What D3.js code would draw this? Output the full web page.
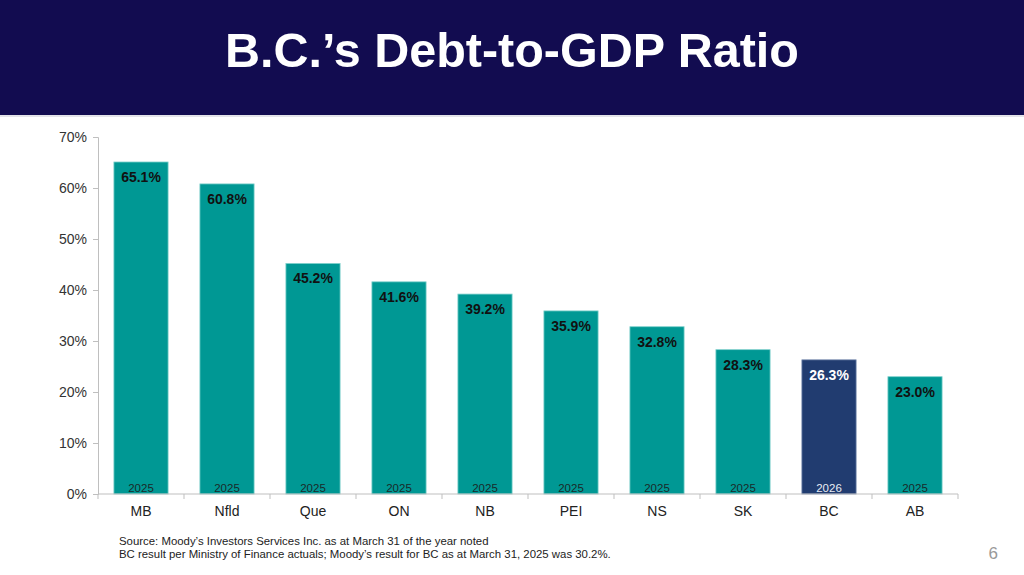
<!DOCTYPE html>
<html>
<head>
<meta charset="utf-8">
<script src="https://cdn.jsdelivr.net/npm/d3@7"></script>
<style>
  body { margin: 0; background: #fff; }
  svg { display: block; font-family: "Liberation Sans", Arial, sans-serif; }
</style>
</head>
<body>
<div id="chart"></div>
<script>
const provinces = ["MB", "Nfld", "Que", "ON", "NB", "PEI", "NS", "SK", "BC", "AB"];
const ratios = [65.1, 60.8, 45.2, 41.6, 39.2, 35.9, 32.8, 28.3, 26.3, 23.0];
const years = ["2025", "2025", "2025", "2025", "2025", "2025", "2025", "2025", "2026", "2025"];
const yTicks = [0, 10, 20, 30, 40, 50, 60, 70];

const width = 1024, height = 575;
const margin = { top: 137, right: 66, bottom: 81, left: 98 };

const svg = d3.select("#chart").append("svg")
  .attr("width", width)
  .attr("height", height);

// header band
svg.append("rect").attr("width", width).attr("height", 115).attr("fill", "#120c50");
svg.append("line")
  .attr("x1", 0).attr("x2", width).attr("y1", 116).attr("y2", 116)
  .attr("stroke", "#c8c8d4").attr("stroke-width", 1);
svg.append("text")
  .attr("x", width / 2).attr("y", 67)
  .attr("text-anchor", "middle")
  .attr("fill", "#fff")
  .style("font-size", "48.5px").style("font-weight", "bold")
  .text("B.C.\u2019s Debt-to-GDP Ratio");

const data = provinces.map((p, i) => ({ prov: p, value: ratios[i], year: years[i] }));

const x = d3.scaleBand()
  .domain(provinces)
  .range([margin.left, width - margin.right])
  .paddingInner(0.37)
  .paddingOuter(0.185);

const y = d3.scaleLinear()
  .domain([0, 70])
  .range([height - margin.bottom, margin.top]);

// y axis
const yAxis = svg.append("g")
  .attr("transform", `translate(${margin.left},0)`)
  .call(d3.axisLeft(y).tickValues(yTicks).tickSize(5).tickPadding(6).tickFormat(d => d + "%"));
yAxis.select(".domain").attr("stroke", "#bfbfbf");
yAxis.selectAll(".tick line").attr("stroke", "#bfbfbf");
yAxis.selectAll(".tick text").attr("fill", "#333").style("font-size", "14px")
  .style("font-family", "'Liberation Sans', Arial, sans-serif");

// bars
svg.selectAll(".bar")
  .data(data)
  .enter()
  .append("rect")
  .attr("class", "bar")
  .attr("x", d => x(d.prov))
  .attr("y", d => y(d.value))
  .attr("width", x.bandwidth())
  .attr("height", d => y(0) - y(d.value))
  .attr("fill", d => d.prov === "BC" ? "#213c70" : "#009894")
  .attr("stroke", d => d.prov === "BC" ? "#6b80a8" : "#7fd0cc")
  .attr("stroke-width", 0.8);

// x axis (drawn over bars)
const xAxis = svg.append("g")
  .attr("transform", `translate(0,${y(0)})`)
  .call(d3.axisBottom(x).tickSize(0).tickPadding(12));
xAxis.select(".domain").attr("stroke", "#bfbfbf").attr("d", `M${margin.left},0H${width - margin.right}`);
xAxis.selectAll(".tick text").attr("fill", "#222").style("font-size", "14px")
  .style("font-family", "'Liberation Sans', Arial, sans-serif");
// category separators
const step = x.step();
xAxis.selectAll(".sep")
  .data(d3.range(provinces.length + 1))
  .enter()
  .append("line")
  .attr("x1", i => margin.left + i * step)
  .attr("x2", i => margin.left + i * step)
  .attr("y1", 0).attr("y2", 5)
  .attr("stroke", "#bfbfbf");

// value labels
svg.selectAll(".val")
  .data(data)
  .enter()
  .append("text")
  .attr("x", d => x(d.prov) + x.bandwidth() / 2)
  .attr("y", d => y(d.value) + 20)
  .attr("text-anchor", "middle")
  .attr("fill", d => d.prov === "BC" ? "#fff" : "#111")
  .style("font-size", "14px").style("font-weight", "bold")
  .text(d => d.value.toFixed(1) + "%");

// year labels
svg.selectAll(".yr")
  .data(data)
  .enter()
  .append("text")
  .attr("x", d => x(d.prov) + x.bandwidth() / 2)
  .attr("y", y(0) - 2)
  .attr("text-anchor", "middle")
  .attr("fill", d => d.prov === "BC" ? "#e8ecf4" : "#1a2a2a")
  .style("font-size", "11.5px")
  .text(d => d.year);

// footnotes
const notes = [
  "Source: Moody\u2019s Investors Services Inc. as at March 31 of the year noted",
  "BC result per Ministry of Finance actuals; Moody\u2019s result for BC as at March 31, 2025 was 30.2%."
];
svg.selectAll(".note")
  .data(notes)
  .enter()
  .append("text")
  .attr("x", 119)
  .attr("y", (d, i) => 545 + i * 13)
  .attr("fill", "#222")
  .style("font-size", "11.4px")
  .text(d => d);

svg.append("text")
  .attr("x", 998).attr("y", 559)
  .attr("text-anchor", "end")
  .attr("fill", "#999")
  .style("font-size", "17px")
  .text("6");
</script>
</body>
</html>
